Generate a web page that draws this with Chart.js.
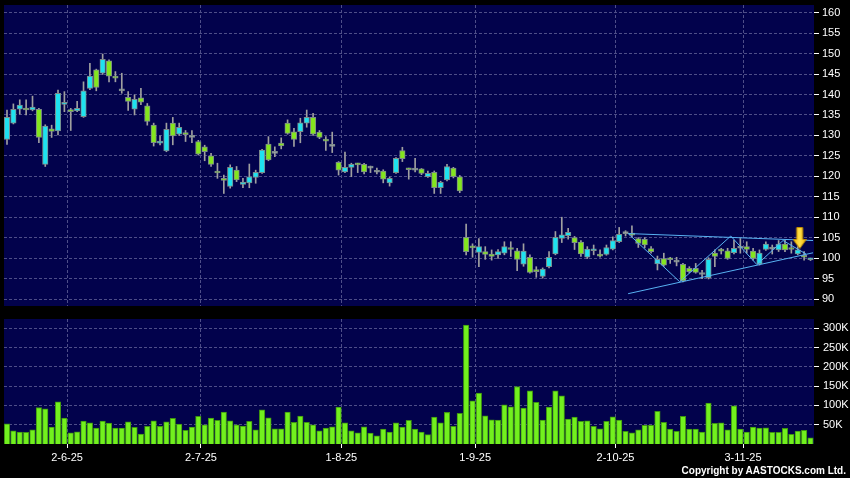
<!DOCTYPE html>
<html><head><meta charset="utf-8">
<script src="https://cdn.jsdelivr.net/npm/chart.js@4.4.1/dist/chart.umd.min.js"></script>
<style>
html,body{margin:0;padding:0;background:#000;width:850px;height:478px;overflow:hidden;}
#pc{position:absolute;left:0;top:0;}
#vc{position:absolute;left:0;top:310px;}
#copy{position:absolute;right:4px;top:465px;font:bold 10px "Liberation Sans",Arial,sans-serif;color:#fff;white-space:nowrap;line-height:12px;}
</style></head><body>
<canvas id="pc" width="850" height="310"></canvas>
<canvas id="vc" width="850" height="168"></canvas>
<div id="copy">Copyright by AASTOCKS.com Ltd.</div>
<script>
// ---- data ----
const dateIdx = [9, 30, 52, 73, 95, 115];
const dateLabels = ['2-6-25', '2-7-25', '1-8-25', '1-9-25', '2-10-25', '3-11-25'];
const priceTicks = [90, 95, 100, 105, 110, 115, 120, 125, 130, 135, 140, 145, 150, 155, 160];
const volTicks = [50, 100, 150, 200, 250, 300];

const openP = [129.0,133.0,136.4,136.7,136.2,136.4,122.9,131.6,131.1,137.6,
136.3,136.0,134.6,141.5,146.0,145.2,148.2,144.4,140.9,139.3,
136.4,139.2,137.2,132.5,128.1,126.2,133.0,130.3,130.4,129.5,
128.5,127.2,125.0,121.3,119.5,117.5,121.5,118.0,118.4,119.7,
120.9,127.9,125.6,128.1,133.0,130.9,130.9,133.0,134.4,130.8,
129.0,127.3,123.4,121.1,122.2,123.0,122.9,122.0,121.0,121.3,
118.4,120.9,126.3,121.9,121.5,121.8,119.9,121.0,117.2,119.1,
122.0,119.9,105.1,102.7,101.4,101.6,101.0,100.8,101.2,102.3,
101.8,98.5,100.2,97.1,95.5,97.9,101.0,104.8,105.5,105.0,
103.9,100.2,101.8,100.9,100.9,102.2,104.0,106.0,106.1,104.8,
104.6,102.3,98.6,99.9,99.8,99.0,98.5,97.5,97.5,96.0,
95.2,101.2,101.9,101.8,101.3,102.4,102.8,101.7,98.6,102.1,
102.2,102.0,103.4,102.3,101.0,100.5,99.6];
const highP = [136.2,137.7,138.7,138.7,139.6,136.6,132.6,132.5,141.1,140.7,
136.6,138.3,143.1,147.6,146.2,149.9,148.5,145.6,145.2,140.7,
139.9,141.5,137.8,133.0,129.9,133.0,134.4,133.0,131.2,131.2,
128.8,127.6,125.6,123.2,120.3,122.8,122.4,119.5,123.0,121.5,
126.6,129.7,127.2,129.4,133.8,131.7,134.2,136.2,135.4,131.2,
129.7,130.8,123.6,125.9,123.2,123.2,123.2,122.5,122.0,121.6,
119.8,124.6,127.1,122.0,124.4,121.9,121.3,121.3,118.8,122.9,
122.2,120.2,108.3,103.5,104.8,102.8,102.0,102.1,104.0,104.0,
102.4,103.5,100.8,97.9,97.6,101.6,106.5,110.0,107.3,105.3,
104.3,102.8,103.2,102.0,103.2,105.2,107.5,106.7,107.9,105.0,
105.0,102.8,100.5,101.2,100.2,100.2,98.7,97.9,98.7,97.0,
100.1,102.0,102.4,102.4,104.4,104.8,104.0,102.4,102.0,104.0,
103.2,104.3,104.4,104.0,102.8,101.6,100.0];
const lowP = [127.8,132.8,135.2,135.0,136.0,128.2,122.4,129.5,130.1,135.8,
131.2,135.8,134.4,141.2,140.9,144.9,143.1,143.1,140.3,136.1,
135.0,137.5,132.5,127.4,127.7,126.0,127.7,130.0,128.5,128.2,
125.2,123.8,122.4,119.5,115.8,117.1,118.7,117.2,117.2,118.3,
120.7,123.8,124.8,126.7,130.3,127.3,128.2,132.0,130.0,129.2,
126.3,125.8,120.3,120.9,119.9,120.9,120.6,120.9,120.6,118.4,
117.6,120.7,123.6,119.3,121.1,120.4,119.7,115.8,115.8,118.9,
119.6,116.0,100.8,100.2,97.9,99.7,99.5,99.9,100.8,100.4,
96.9,98.0,96.3,95.3,95.1,97.6,100.8,103.8,104.6,102.1,
100.4,99.9,100.8,100.2,100.7,102.0,103.8,105.4,105.2,102.6,
102.5,101.2,97.1,98.0,98.7,98.1,94.2,96.4,96.3,95.0,
94.9,97.9,101.0,99.7,101.0,101.2,101.2,99.5,98.3,101.9,
101.0,101.6,101.6,101.2,100.8,99.5,99.4];
const closeP = [134.4,136.4,137.4,136.2,136.9,129.5,132.3,131.0,140.3,138.1,
135.8,136.6,140.9,144.5,141.7,148.6,144.5,144.0,140.9,138.3,
138.8,138.1,133.4,128.2,128.6,131.5,129.9,132.0,130.2,129.5,
125.4,126.0,122.9,120.8,119.0,122.2,119.1,118.6,119.9,121.0,
126.4,124.0,125.6,127.4,130.5,129.0,133.1,134.4,130.3,129.5,
128.6,127.3,121.5,122.2,122.9,122.8,121.1,122.0,121.0,119.3,
119.5,124.4,124.3,121.6,121.5,120.7,120.7,117.2,118.5,122.4,
119.9,116.4,101.6,102.5,102.8,100.9,100.4,101.6,102.8,102.1,
99.7,101.7,96.5,96.7,97.3,100.2,105.1,105.7,106.3,103.8,
101.0,102.2,102.2,100.5,102.6,104.3,105.8,106.0,105.6,103.6,
103.2,101.6,99.7,98.3,99.6,99.0,94.4,96.7,96.5,96.0,
99.7,100.4,101.7,99.9,102.4,102.4,102.1,99.9,101.2,103.4,
102.2,103.4,102.0,102.1,102.0,100.2,99.9];
const volK = [52.5,34.4,31.0,30.1,37.0,94.7,91.3,43.9,109.4,67.2,
29.2,31.8,59.4,55.1,41.3,59.4,54.2,41.3,41.3,57.7,
43.0,25.8,45.6,60.3,45.6,57.7,66.3,51.6,35.3,43.9,
71.5,49.9,67.2,61.1,82.7,60.3,49.9,46.5,58.5,37.0,
88.7,68.0,39.6,39.6,82.7,56.0,72.3,56.0,49.9,34.4,
41.3,44.7,95.6,55.1,34.4,29.2,44.7,28.4,21.5,38.7,
31.0,55.1,43.9,61.1,38.7,31.0,24.1,69.7,55.1,81.8,
45.6,79.2,308.4,112.0,131.8,73.2,62.8,62.0,101.6,96.5,
149.0,93.0,137.8,107.7,62.0,95.6,137.8,124.9,64.6,69.7,
58.5,60.3,45.6,39.6,58.5,70.6,62.0,32.7,29.2,37.0,
48.2,48.2,84.4,56.0,38.7,32.7,71.5,38.7,38.7,31.0,
105.9,53.4,55.1,37.0,99.0,38.7,31.0,43.9,41.3,42.2,
30.1,30.1,40.4,25.0,33.5,35.3,16.3];

// pattern lines (x = trading-day index, y = price)
const upperX = [97.4, 126.4], upperY = [106.0, 104.3];
const lowerX = [97.4, 126.4], lowerY = [91.3, 101.3];
const zigX = [97.4, 105.5, 113.5, 117.6, 121.7, 125.3];
const zigY = [106.0, 94.2, 105.4, 98.4, 104.3, 101.0];
const arrowX = [124.3], arrowY = [104.9];

// ---- style ----
const FONT = '"Liberation Sans", Arial, sans-serif';
const NAVY = '#02024c';
const GRIDC = '#4e4e88';
const CYAN = '#1ee2f0';
const GREEN = '#84e61e';
const DOJI = '#a0a8a8';
const EDGE = '#7c8a8a';
const WICK = '#a0a0a0';
const VOLC = '#72f01e';
const VOLEDGE = '#3e9410';
const LINEC = '#58b2f2';
const X_MIN = -0.47, X_MAX = 126.55, GSHIFT = 0.42;

const bgPlugin = {
  id: 'bg',
  beforeDraw(chart) {
    const {ctx, chartArea: a} = chart;
    ctx.save();
    ctx.fillStyle = NAVY;
    ctx.fillRect(a.left, a.top, a.right - a.left, a.bottom - a.top);
    ctx.restore();
  }
};

function zeroPad(s) { s.paddingTop = 0; s.paddingBottom = 0; s.paddingLeft = 0; s.paddingRight = 0; }

function makeArrow() {
  const c = document.createElement('canvas');
  c.width = 14; c.height = 22;
  const g = c.getContext('2d');
  g.beginPath();
  g.moveTo(4, 0.5); g.lineTo(10, 0.5); g.lineTo(10, 12.5); g.lineTo(13.5, 12.5);
  g.lineTo(7, 21.5); g.lineTo(0.5, 12.5); g.lineTo(4, 12.5); g.closePath();
  const grd = g.createLinearGradient(0, 0, 14, 0);
  grd.addColorStop(0, '#f2b000'); grd.addColorStop(0.5, '#ffe14a'); grd.addColorStop(1, '#f2b000');
  g.fillStyle = grd; g.fill();
  g.strokeStyle = '#c08c00'; g.lineWidth = 1; g.stroke();
  return c;
}

const idx = openP.map((_, k) => k);
const bodyColors = idx.map(k => closeP[k] > openP[k] ? CYAN : (closeP[k] < openP[k] ? GREEN : DOJI));

const xGridOpts = (withLabels) => ({
  type: 'linear', min: X_MIN, max: X_MAX, offset: false,
  afterBuildTicks: s => { s.ticks = dateIdx.map(v => ({value: v + GSHIFT})); },
  ticks: {
    display: withLabels, autoSkip: false, maxRotation: 0, color: '#fff', padding: 3,
    font: {family: FONT, size: 11},
    callback: (v, i) => dateLabels[i]
  },
  grid: {offset: false, color: GRIDC, drawTicks: withLabels, tickLength: 4, tickColor: '#fff', lineWidth: 1},
  border: {display: false, dash: [3, 2]},
  afterFit: s => { s.height = withLabels ? 34 : 4; zeroPad(s); }
});

new Chart(document.getElementById('pc'), {
  type: 'bar',
  data: {
    datasets: [
      {type: 'bar', data: idx.map(k => ({x: k, y: [lowP[k], highP[k]]})), backgroundColor: WICK,
       barThickness: 1, grouped: false, order: 4, borderWidth: 0},
      {type: 'bar', data: idx.map(k => ({x: k, y: [openP[k], closeP[k]]})), backgroundColor: bodyColors,
       borderColor: EDGE, borderWidth: 1, borderSkipped: false, barThickness: 5.5, minBarLength: 2,
       grouped: false, order: 3},
      {type: 'line', data: upperX.map((x, i) => ({x, y: upperY[i]})), borderColor: LINEC, borderWidth: 1,
       pointRadius: 0, fill: false, order: 2},
      {type: 'line', data: lowerX.map((x, i) => ({x, y: lowerY[i]})), borderColor: LINEC, borderWidth: 1,
       pointRadius: 0, fill: false, order: 2},
      {type: 'line', data: zigX.map((x, i) => ({x, y: zigY[i]})), borderColor: LINEC, borderWidth: 1,
       pointRadius: 0, fill: false, tension: 0, order: 2},
      {type: 'scatter', data: arrowX.map((x, i) => ({x, y: arrowY[i]})), pointStyle: makeArrow(),
       pointRadius: 8, order: 1}
    ]
  },
  options: {
    responsive: false, animation: false, devicePixelRatio: 1,
    layout: {autoPadding: false, padding: {left: 4, top: 5, right: 0, bottom: 0}},
    plugins: {legend: {display: false}, tooltip: {enabled: false}},
    scales: {
      x: xGridOpts(false),
      y: {
        position: 'right', min: 88.29, max: 161.88,
        afterBuildTicks: s => { s.ticks = priceTicks.map(v => ({value: v})); },
        ticks: {color: '#fff', padding: 3, font: {family: FONT, size: 11}, autoSkip: false},
        grid: {color: GRIDC, tickColor: '#fff', tickLength: 5, drawTicks: true},
        border: {display: false, dash: [3, 2]},
        afterFit: s => { s.width = 36; zeroPad(s); }
      }
    }
  },
  plugins: [bgPlugin]
});

new Chart(document.getElementById('vc'), {
  type: 'bar',
  data: {
    datasets: [
      {type: 'bar', data: volK.map((v, k) => ({x: k, y: v})), backgroundColor: VOLC,
       borderColor: VOLEDGE, borderWidth: 1, borderSkipped: 'start', barThickness: 5.5, grouped: false}
    ]
  },
  options: {
    responsive: false, animation: false, devicePixelRatio: 1,
    layout: {autoPadding: false, padding: {left: 4, top: 9, right: 0, bottom: 0}},
    plugins: {legend: {display: false}, tooltip: {enabled: false}},
    scales: {
      x: xGridOpts(true),
      y: {
        position: 'right', min: 0, max: 324,
        afterBuildTicks: s => { s.ticks = volTicks.map(v => ({value: v})); },
        ticks: {color: '#fff', padding: 4, font: {family: FONT, size: 11}, autoSkip: false,
                callback: v => v + 'K'},
        grid: {color: GRIDC, tickColor: '#fff', tickLength: 5, drawTicks: true},
        border: {display: false, dash: [3, 2]},
        afterFit: s => { s.width = 36; zeroPad(s); }
      }
    }
  },
  plugins: [bgPlugin]
});
</script>
</body></html>
